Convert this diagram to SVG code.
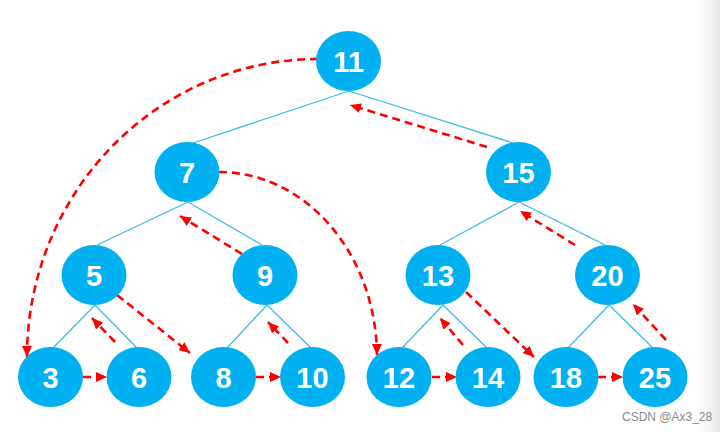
<svg xmlns="http://www.w3.org/2000/svg" width="720" height="432" viewBox="0 0 720 432">
<style>
.edge{stroke:#3cbcec;stroke-width:1.3;fill:none}
.thr{stroke:#ff0000;stroke-width:2.6;fill:none;stroke-dasharray:8 5;marker-end:url(#ah)}
.node ellipse{fill:#00b0f0}
.node text{fill:#ffffff;font-family:"Liberation Sans",Arial,sans-serif;font-weight:bold;font-size:29px;text-anchor:middle}
.wm{fill:#8a8a8a;font-family:"Liberation Sans",Arial,sans-serif;font-size:12px}
</style>
<defs>
<marker id="ah" markerUnits="userSpaceOnUse" markerWidth="11" markerHeight="10" refX="11" refY="5" orient="auto">
<path d="M0,0 L11,5 L0,10 z" fill="#ff0000"/>
</marker>
<linearGradient id="shade" x1="0" y1="0" x2="1" y2="0">
<stop offset="0" stop-color="#ffffff" stop-opacity="0"/>
<stop offset="1" stop-color="#e6e6e6"/>
</linearGradient>
</defs>
<rect x="0" y="0" width="720" height="432" fill="#ffffff"/>
<rect x="688" y="0" width="32" height="432" fill="url(#shade)"/>
<g id="edges">
<line class="edge" x1="349" y1="91" x2="193" y2="143"/>
<line class="edge" x1="349" y1="91" x2="513" y2="143"/>
<line class="edge" x1="188" y1="202" x2="97" y2="245"/>
<line class="edge" x1="188" y1="202" x2="262" y2="245"/>
<line class="edge" x1="519" y1="202" x2="440" y2="245"/>
<line class="edge" x1="519" y1="202" x2="605" y2="245"/>
<line class="edge" x1="95" y1="305" x2="53" y2="348"/>
<line class="edge" x1="95" y1="305" x2="137" y2="348"/>
<line class="edge" x1="267" y1="305" x2="227" y2="348"/>
<line class="edge" x1="267" y1="305" x2="311" y2="348"/>
<line class="edge" x1="443" y1="305" x2="402" y2="348"/>
<line class="edge" x1="443" y1="305" x2="487" y2="348"/>
<line class="edge" x1="609" y1="305" x2="568" y2="348"/>
<line class="edge" x1="609" y1="305" x2="653" y2="348"/>
</g>
<g id="threads">
<path class="thr" d="M318,59 A291,298 0 0 0 27,357"/>
<path class="thr" d="M219,172 A158,185 0 0 1 377,355"/>
<line class="thr" x1="487" y1="147" x2="350" y2="105"/>
<line class="thr" x1="242" y1="254" x2="180" y2="216"/>
<line class="thr" x1="117" y1="295" x2="190" y2="353"/>
<line class="thr" x1="115" y1="342" x2="92" y2="318"/>
<line class="thr" x1="83" y1="377" x2="107" y2="377"/>
<line class="thr" x1="288" y1="343" x2="268" y2="322"/>
<line class="thr" x1="256" y1="377" x2="281" y2="377"/>
<line class="thr" x1="432" y1="377" x2="457" y2="377"/>
<line class="thr" x1="463" y1="345" x2="440" y2="318"/>
<line class="thr" x1="466" y1="292" x2="534" y2="357"/>
<line class="thr" x1="598" y1="377" x2="623" y2="377"/>
<line class="thr" x1="666" y1="340" x2="633" y2="304"/>
<line class="thr" x1="575" y1="245" x2="520" y2="211"/>
</g>
<g id="n11" class="node"><ellipse cx="348.5" cy="61" rx="32.5" ry="30"/><text x="348.5" y="72">11</text></g>
<g id="n7" class="node"><ellipse cx="187" cy="172" rx="32.5" ry="30"/><text x="187" y="183">7</text></g>
<g id="n15" class="node"><ellipse cx="518.5" cy="172" rx="32.5" ry="30"/><text x="518.5" y="183">15</text></g>
<g id="n5" class="node"><ellipse cx="94" cy="275" rx="32.5" ry="30"/><text x="94" y="286">5</text></g>
<g id="n9" class="node"><ellipse cx="265" cy="275" rx="32.5" ry="30"/><text x="265" y="286">9</text></g>
<g id="n13" class="node"><ellipse cx="438" cy="275" rx="32.5" ry="30"/><text x="438" y="286">13</text></g>
<g id="n20" class="node"><ellipse cx="607.5" cy="275" rx="32.5" ry="30"/><text x="607.5" y="286">20</text></g>
<g id="n3" class="node"><ellipse cx="50.5" cy="377" rx="32.5" ry="30"/><text x="50.5" y="388">3</text></g>
<g id="n6" class="node"><ellipse cx="139" cy="377" rx="32.5" ry="30"/><text x="139" y="388">6</text></g>
<g id="n8" class="node"><ellipse cx="223.5" cy="377" rx="32.5" ry="30"/><text x="223.5" y="388">8</text></g>
<g id="n10" class="node"><ellipse cx="312.5" cy="377" rx="32.5" ry="30"/><text x="312.5" y="388">10</text></g>
<g id="n12" class="node"><ellipse cx="399" cy="377" rx="32.5" ry="30"/><text x="399" y="388">12</text></g>
<g id="n14" class="node"><ellipse cx="488" cy="377" rx="32.5" ry="30"/><text x="488" y="388">14</text></g>
<g id="n18" class="node"><ellipse cx="566" cy="377" rx="32.5" ry="30"/><text x="566" y="388">18</text></g>
<g id="n25" class="node"><ellipse cx="655" cy="377" rx="32.5" ry="30"/><text x="655" y="388">25</text></g>
<text class="wm" x="622" y="421">CSDN @Ax3_28</text>
</svg>
